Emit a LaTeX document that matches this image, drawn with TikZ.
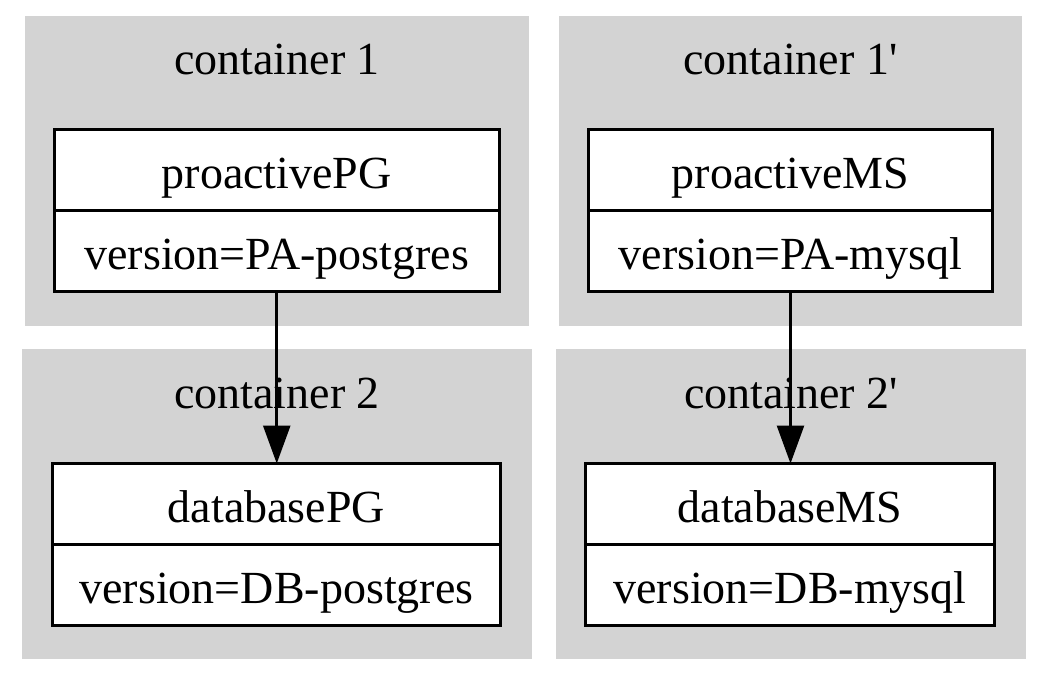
\documentclass[tikz,border=0pt]{standalone}
\usepackage{fontspec}
\setmainfont{Liberation Serif}
\usetikzlibrary{positioning,arrows.meta}
\definecolor{clustergray}{HTML}{D3D3D3}
\tikzset{
  cluster/.style={fill=clustergray, draw=none, inner sep=0pt, outer sep=0pt},
  field/.style={draw, line width=3pt, fill=white, minimum height=81pt, inner sep=0pt, outer sep=0pt, text height=37pt, text depth=0pt},
  flow/.style={line width=2.6pt, -{Triangle[length=38pt,width=27pt]}}
}

\begin{document}
\begin{tikzpicture}[x=1pt,y=-1pt,every node/.style={font=\fontsize{46}{50}\selectfont}]
   \fill[white] (0,0) rectangle (1050,676);
   \useasboundingbox (0,0) rectangle (1050,676);
   % clusters
   \node[cluster, minimum width=504pt, minimum height=310pt] (c1) at (277,171) {};
   \node[cluster, minimum width=463pt, minimum height=310pt] (c1b) at (790.5,171) {};
   \node[cluster, minimum width=510pt, minimum height=310pt] (c2) at (277,504) {};
   \node[cluster, minimum width=470pt, minimum height=310pt] (c2b) at (791,504) {};
   \node[anchor=base] (t1) at (277,75) {container 1};
   \node[anchor=base] (t1b) at (790.5,75) {container 1\textquotesingle};
   \node[anchor=base] (t2) at (277,408) {container 2};
   \node[anchor=base] (t2b) at (791,408) {container 2\textquotesingle};
   % records
   \node[field, minimum width=445.5pt] (proPG) at (276.75,170.5) {proactivePG};
   \node[field, minimum width=445.5pt, below=0pt of proPG] (proPGv) {version=PA-postgres};
   \node[field, minimum width=404pt] (proMS) at (790.5,170.5) {proactiveMS};
   \node[field, minimum width=404pt, below=0pt of proMS] (proMSv) {version=PA-mysql};
   \node[field, minimum width=448pt] (dbPG) at (276.5,504) {databasePG};
   \node[field, minimum width=448pt, below=0pt of dbPG] (dbPGv) {version=DB-postgres};
   \node[field, minimum width=409pt] (dbMS) at (790,504) {databaseMS};
   \node[field, minimum width=409pt, below=0pt of dbMS] (dbMSv) {version=DB-mysql};
   % links
   \draw[flow] (proPGv.south) -- (proPGv.south |- dbPG.north);
   \draw[flow] (proMSv.south) -- (proMSv.south |- dbMS.north);
\end{tikzpicture}
\end{document}
